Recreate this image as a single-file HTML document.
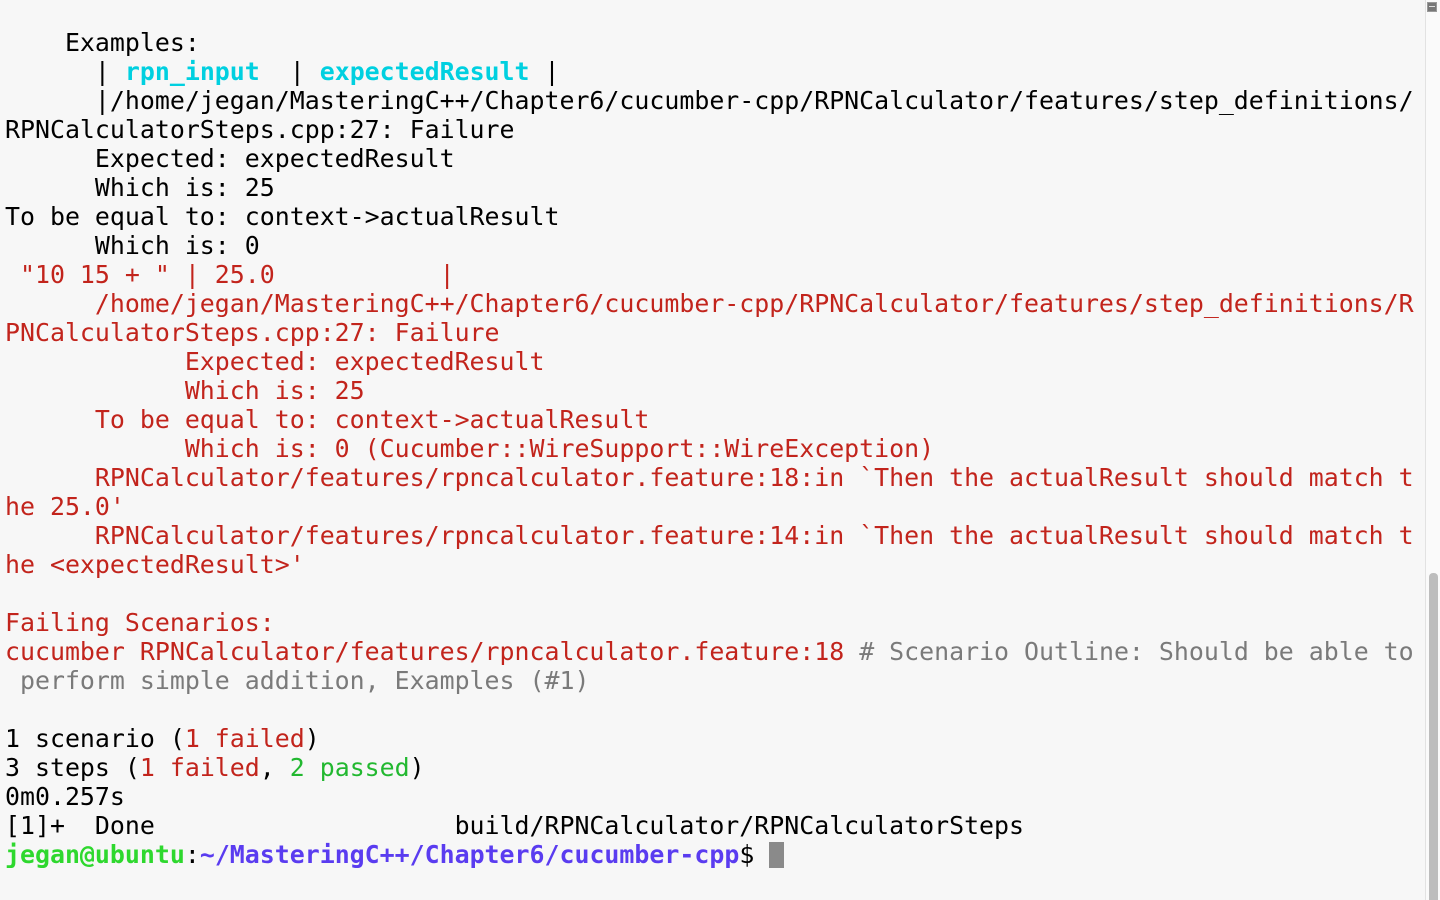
<!DOCTYPE html>
<html><head><meta charset="utf-8"><style>
html,body{margin:0;padding:0;width:1440px;height:900px;overflow:hidden;background:#f7f7f7;}
pre{position:absolute;left:5px;top:28px;margin:0;font-family:"DejaVu Sans Mono","Liberation Mono",monospace;font-size:24.9px;line-height:29px;color:#000;white-space:pre;}
.c{color:#00d0e0;font-weight:bold}
.r{color:#c2241c}
.g{color:#22b830}
.gr{color:#7a7a7a}
.pg{color:#2ed82e;font-weight:bold}
.pp{color:#5a3cf0;font-weight:bold}
.cur{display:inline-block;width:15px;height:26px;background:#8a8a8a;vertical-align:-5px}
#sb{position:absolute;left:1425px;top:0;width:15px;height:900px;background:#fafafa;border-left:1px solid #e2e2e2;box-sizing:border-box}
#th{position:absolute;left:1429px;top:573px;width:9px;height:327px;background:#bdbdbd;border-radius:4px 4px 0 0}
#ic{position:absolute;left:1427px;top:2px;width:10px;height:10px;background:#777;border:1px solid #999;box-sizing:border-box}
#ic:after{content:"";position:absolute;left:1px;top:3px;width:6px;height:1px;background:#ddd}
</style></head><body>
<pre>    Examples:
      | <span class="c">rpn_input</span>  | <span class="c">expectedResult</span> |
      |/home/jegan/MasteringC++/Chapter6/cucumber-cpp/RPNCalculator/features/step_definitions/
RPNCalculatorSteps.cpp:27: Failure
      Expected: expectedResult
      Which is: 25
To be equal to: context-&gt;actualResult
      Which is: 0
<span class="r"> "10 15 + " | 25.0</span>           <span class="r">|</span>
<span class="r">      /home/jegan/MasteringC++/Chapter6/cucumber-cpp/RPNCalculator/features/step_definitions/R
PNCalculatorSteps.cpp:27: Failure
            Expected: expectedResult
            Which is: 25
      To be equal to: context-&gt;actualResult
            Which is: 0 (Cucumber::WireSupport::WireException)
      RPNCalculator/features/rpncalculator.feature:18:in `Then the actualResult should match t
he 25.0'
      RPNCalculator/features/rpncalculator.feature:14:in `Then the actualResult should match t
he &lt;expectedResult&gt;'

Failing Scenarios:
cucumber RPNCalculator/features/rpncalculator.feature:18</span> <span class="gr"># Scenario Outline: Should be able to
 perform simple addition, Examples (#1)</span>

1 scenario (<span class="r">1 failed</span>)
3 steps (<span class="r">1 failed</span>, <span class="g">2 passed</span>)
0m0.257s
[1]+  Done                    build/RPNCalculator/RPNCalculatorSteps
<span class="pg">jegan@ubuntu</span>:<span class="pp">~/MasteringC++/Chapter6/cucumber-cpp</span>$ <span class="cur"></span></pre>
<div id="sb"></div><div id="th"></div><div id="ic"></div>
</body></html>
